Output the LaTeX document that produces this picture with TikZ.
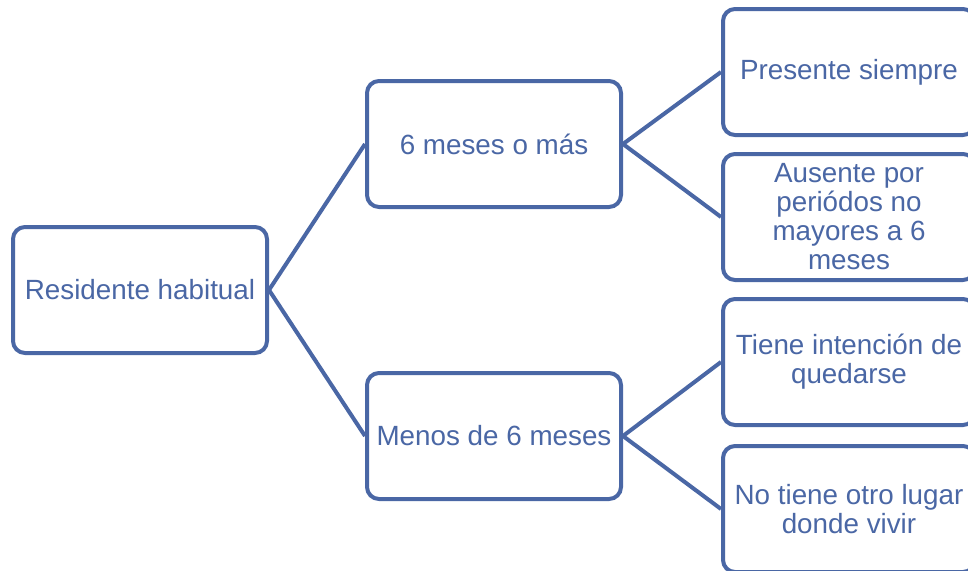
\documentclass[tikz,border=0pt]{standalone}
\usepackage{fontspec}
\setmainfont{Liberation Sans}
\definecolor{boxblue}{RGB}{74,103,165}
\begin{document}
\begin{tikzpicture}[x=1pt,y=-1pt,
  box/.style={draw=boxblue, line width=4pt, rounded corners=12pt, fill=white,
    minimum width=254pt, minimum height=126pt, inner sep=0pt,
    text=boxblue, align=center, font=\fontsize{27.8}{29}\selectfont},
  link/.style={draw=boxblue, line width=4pt}]
\useasboundingbox (0,0) rectangle (968,570);
\clip (0,0) rectangle (968,570);
\node[box] (a) at (140,290) {Residente habitual};
\node[box] (b) at (494,144) {6 meses o más};
\node[box] (c) at (494,436) {Menos de 6 meses};
\node[box, minimum width=252pt] (d) at (849,72) {Presente siempre};
\node[box, minimum width=252pt] (e) at (849,217) {Ausente por\\periódos no\\mayores a 6\\meses};
\node[box, minimum width=252pt] (f) at (849,362) {Tiene intención de\\quedarse};
\node[box, minimum width=252pt] (g) at (849,509) {No tiene otro lugar\\donde vivir};
\draw[link] (a.east) -- (b.west);
\draw[link] (a.east) -- (c.west);
\draw[link] (b.east) -- (d.west);
\draw[link] (b.east) -- (e.west);
\draw[link] (c.east) -- (f.west);
\draw[link] (c.east) -- (g.west);
\end{tikzpicture}
\end{document}
